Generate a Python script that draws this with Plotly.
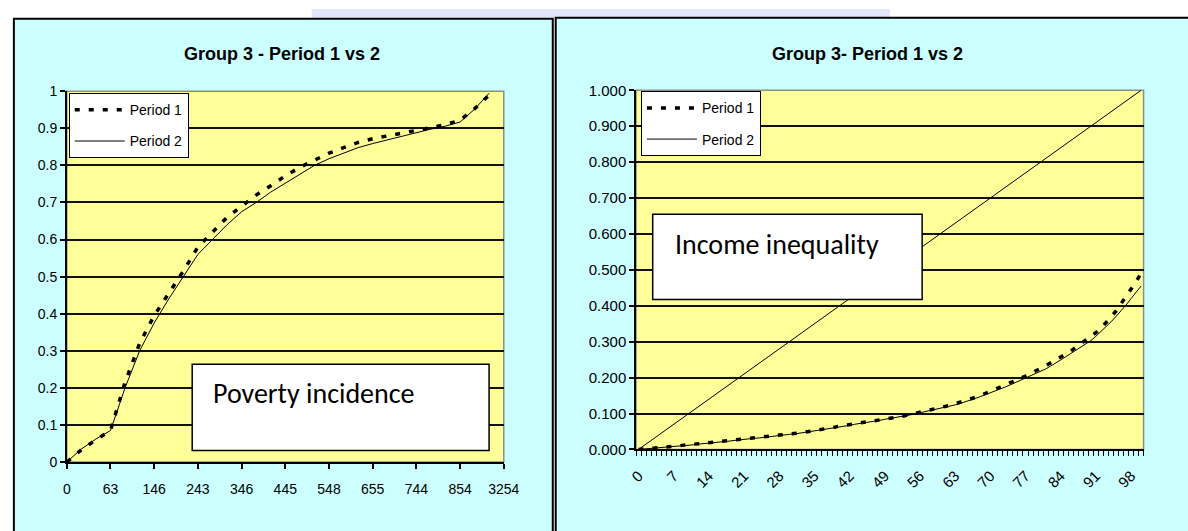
import plotly.graph_objects as go

W, H = 1188, 531


def px(x):
    return x / W


def py(y):
    return 1 - y / H


# ---------------- data: left chart (poverty incidence) ----------------
poverty_labels = ["0", "63", "146", "243", "346", "445", "548", "655", "744", "854", "3254"]
poverty_period1 = [0.000, 0.033, 0.060, 0.085, 0.215, 0.320, 0.395, 0.455, 0.515, 0.580,
                   0.620, 0.660, 0.690, 0.720, 0.745, 0.772, 0.795, 0.815, 0.833, 0.848,
                   0.862, 0.872, 0.879, 0.886, 0.895, 0.902, 0.910, 0.922, 0.953, 0.990]
poverty_period2 = [0.000, 0.035, 0.062, 0.085, 0.200, 0.300, 0.375, 0.440, 0.500, 0.560,
                   0.600, 0.640, 0.675, 0.700, 0.728, 0.752, 0.778, 0.800, 0.818, 0.834,
                   0.848, 0.859, 0.869, 0.879, 0.889, 0.898, 0.906, 0.917, 0.952, 0.995]
poverty_y_labels = ["0", "0.1", "0.2", "0.3", "0.4", "0.5", "0.6", "0.7", "0.8", "0.9", "1"]

# ---------------- data: right chart (income inequality) ----------------
ineq_labels = ["0", "7", "14", "21", "28", "35", "42", "49", "56", "63", "70", "77", "84", "91", "98"]
ineq_period1 = [0.000, 0.001, 0.003, 0.004, 0.005, 0.006, 0.008, 0.009, 0.010, 0.012,
                0.013, 0.015, 0.016, 0.017, 0.019, 0.020, 0.022, 0.023, 0.025, 0.026,
                0.028, 0.029, 0.031, 0.032, 0.034, 0.035, 0.037, 0.038, 0.040, 0.041,
                0.043, 0.045, 0.046, 0.048, 0.050, 0.052, 0.054, 0.057, 0.059, 0.062,
                0.065, 0.067, 0.069, 0.071, 0.074, 0.076, 0.078, 0.080, 0.082, 0.084,
                0.086, 0.089, 0.091, 0.094, 0.097, 0.100, 0.103, 0.106, 0.109, 0.112,
                0.115, 0.119, 0.123, 0.127, 0.131, 0.135, 0.140, 0.145, 0.150, 0.156,
                0.162, 0.167, 0.173, 0.178, 0.184, 0.190, 0.197, 0.204, 0.211, 0.218,
                0.225, 0.233, 0.241, 0.249, 0.257, 0.265, 0.274, 0.284, 0.294, 0.303,
                0.313, 0.325, 0.338, 0.352, 0.368, 0.385, 0.405, 0.425, 0.445, 0.467,
                0.490]
ineq_period2 = [0.000, 0.001, 0.002, 0.003, 0.004, 0.005, 0.007, 0.008, 0.009, 0.011,
                0.012, 0.013, 0.015, 0.016, 0.017, 0.019, 0.020, 0.022, 0.023, 0.025,
                0.026, 0.028, 0.029, 0.031, 0.032, 0.034, 0.035, 0.037, 0.038, 0.040,
                0.042, 0.043, 0.045, 0.047, 0.049, 0.051, 0.053, 0.055, 0.058, 0.060,
                0.063, 0.065, 0.067, 0.070, 0.072, 0.075, 0.077, 0.079, 0.081, 0.084,
                0.086, 0.088, 0.091, 0.093, 0.096, 0.099, 0.102, 0.105, 0.108, 0.110,
                0.113, 0.117, 0.120, 0.124, 0.128, 0.132, 0.137, 0.142, 0.147, 0.152,
                0.157, 0.162, 0.168, 0.174, 0.180, 0.186, 0.192, 0.198, 0.204, 0.210,
                0.216, 0.224, 0.232, 0.240, 0.249, 0.258, 0.267, 0.276, 0.285, 0.294,
                0.303, 0.315, 0.328, 0.341, 0.355, 0.370, 0.385, 0.402, 0.420, 0.437,
                0.455]
equality_line = [0.00, 0.01, 0.02, 0.03, 0.04, 0.05, 0.06, 0.07, 0.08, 0.09,
                 0.10, 0.11, 0.12, 0.13, 0.14, 0.15, 0.16, 0.17, 0.18, 0.19,
                 0.20, 0.21, 0.22, 0.23, 0.24, 0.25, 0.26, 0.27, 0.28, 0.29,
                 0.30, 0.31, 0.32, 0.33, 0.34, 0.35, 0.36, 0.37, 0.38, 0.39,
                 0.40, 0.41, 0.42, 0.43, 0.44, 0.45, 0.46, 0.47, 0.48, 0.49,
                 0.50, 0.51, 0.52, 0.53, 0.54, 0.55, 0.56, 0.57, 0.58, 0.59,
                 0.60, 0.61, 0.62, 0.63, 0.64, 0.65, 0.66, 0.67, 0.68, 0.69,
                 0.70, 0.71, 0.72, 0.73, 0.74, 0.75, 0.76, 0.77, 0.78, 0.79,
                 0.80, 0.81, 0.82, 0.83, 0.84, 0.85, 0.86, 0.87, 0.88, 0.89,
                 0.90, 0.91, 0.92, 0.93, 0.94, 0.95, 0.96, 0.97, 0.98, 0.99,
                 1.00]
ineq_y_labels = ["0.000", "0.100", "0.200", "0.300", "0.400", "0.500",
                 "0.600", "0.700", "0.800", "0.900", "1.000"]
y_values = [0.0, 0.1, 0.2, 0.3, 0.4, 0.5, 0.6, 0.7, 0.8, 0.9, 1.0]

pov_step = 3   # categories between labelled ticks (left chart)
ineq_step = 7  # categories between labels (right chart)

CYAN = "#CCFFFF"
YELLOW = "#FFFF99"
TICK_FONT = "Liberation Sans, Arial, sans-serif"
BOX_FONT = "Carlito, Lato, Open Sans, sans-serif"

fig = go.Figure()

pov_x = list(range(len(poverty_period1)))
ineq_x = list(range(len(ineq_period1)))

fig.add_trace(go.Scatter(x=pov_x, y=poverty_period1, mode="lines", name="Period 1",
                         line=dict(color="black", width=3.5, dash="5px,9px"),
                         xaxis="x", yaxis="y", legend="legend", legendgroup="a"))
fig.add_trace(go.Scatter(x=pov_x, y=poverty_period2, mode="lines", name="Period 2",
                         line=dict(color="black", width=1),
                         xaxis="x", yaxis="y", legend="legend", legendgroup="b"))

fig.add_trace(go.Scatter(x=ineq_x, y=equality_line, mode="lines", name="Equality",
                         line=dict(color="black", width=1), showlegend=False,
                         xaxis="x2", yaxis="y2"))
fig.add_trace(go.Scatter(x=ineq_x, y=ineq_period1, mode="lines", name="Period 1",
                         line=dict(color="black", width=3.5, dash="5px,9px"),
                         xaxis="x2", yaxis="y2", legend="legend2", legendgroup="c"))
fig.add_trace(go.Scatter(x=ineq_x, y=ineq_period2, mode="lines", name="Period 2",
                         line=dict(color="black", width=1),
                         xaxis="x2", yaxis="y2", legend="legend2", legendgroup="d"))

# plot area extents (pixels)
L1, R1, T1, B1 = 60, 506, 85, 468
L2, R2, T2, B2 = 641, 1159, 84, 455

common_y = dict(range=[0, 1], tickvals=y_values, showgrid=True, gridcolor="#111111",
                gridwidth=1.5, zeroline=False, showline=True, linecolor="black",
                linewidth=1.5, ticks="outside", ticklen=5, tickcolor="black",
                tickwidth=1.5, fixedrange=True)

fig.update_layout(
    width=W, height=H,
    margin=dict(l=0, r=0, t=0, b=0),
    paper_bgcolor="white",
    plot_bgcolor="rgba(0,0,0,0)",
    xaxis=dict(domain=[px(L1), px(R1)], anchor="y", range=[0, len(poverty_labels) * pov_step - pov_step],
               tickvals=[i * pov_step for i in range(len(poverty_labels))],
               ticktext=poverty_labels, showgrid=False, zeroline=False,
               showline=True, linecolor="black", linewidth=1.5,
               ticks="outside", ticklen=5, tickcolor="black", tickwidth=1.5,
               ticklabelstandoff=8,
               tickfont=dict(family=TICK_FONT, size=14, color="black")),
    yaxis=dict(domain=[py(B1), py(T1)], anchor="x", ticktext=poverty_y_labels,
               tickfont=dict(family=TICK_FONT, size=14, color="black"), **common_y),
    xaxis2=dict(domain=[px(L2), px(R2)], anchor="y2", range=[-0.5, len(ineq_period1) - 0.5],
                tickvals=[i * ineq_step for i in range(len(ineq_labels))],
                ticktext=ineq_labels, tickangle=-45, showgrid=False, zeroline=False,
                showline=True, linecolor="black", linewidth=1.5, ticks="",
                ticklabelstandoff=10,
                minor=dict(tickmode="linear", tick0=-0.5, dtick=1, ticks="outside",
                           ticklen=5, tickcolor="black", tickwidth=1, showgrid=False),
                tickfont=dict(family=TICK_FONT, size=15, color="black")),
    yaxis2=dict(domain=[py(B2), py(T2)], anchor="x2", ticktext=ineq_y_labels,
                tickfont=dict(family=TICK_FONT, size=15, color="black"), **common_y),
    legend=dict(x=px(62), y=py(87), xanchor="left", yanchor="top",
                bgcolor="white", bordercolor="black", borderwidth=1,
                font=dict(family=TICK_FONT, size=14, color="black"),
                itemwidth=50, tracegroupgap=10, traceorder="grouped"),
    legend2=dict(x=px(646), y=py(85), xanchor="left", yanchor="top",
                 bgcolor="white", bordercolor="black", borderwidth=1,
                 font=dict(family=TICK_FONT, size=14, color="black"),
                 itemwidth=50, tracegroupgap=10, traceorder="grouped"),
    showlegend=True,
)

shapes = [
    # faint slide decoration at the top
    dict(type="rect", xref="paper", yref="paper", x0=px(310), x1=px(900), y0=py(9), y1=1.0,
         fillcolor="#E2E6FA", line=dict(width=0), layer="below"),
    # chart panels
    dict(type="rect", xref="paper", yref="paper", x0=px(6), x1=px(556), y0=-0.02, y1=py(10),
         fillcolor=CYAN, line=dict(color="black", width=2), layer="below"),
    dict(type="rect", xref="paper", yref="paper", x0=px(559), x1=1.02, y0=-0.02, y1=py(9),
         fillcolor=CYAN, line=dict(color="black", width=2), layer="below"),
    # plot areas
    dict(type="rect", xref="paper", yref="paper", x0=px(L1), x1=px(R1), y0=py(B1), y1=py(T1),
         fillcolor=YELLOW, line=dict(color="#8c8c8c", width=1.5), layer="below"),
    dict(type="rect", xref="paper", yref="paper", x0=px(L2), x1=px(R2), y0=py(B2), y1=py(T2),
         fillcolor=YELLOW, line=dict(color="#8c8c8c", width=1.5), layer="below"),
    # text boxes
    dict(type="rect", xref="paper", yref="paper", x0=px(188), x1=px(491), y0=py(456), y1=py(367),
         fillcolor="white", line=dict(color="black", width=1.5), layer="above"),
    dict(type="rect", xref="paper", yref="paper", x0=px(658), x1=px(933), y0=py(300), y1=py(212),
         fillcolor="white", line=dict(color="black", width=1.5), layer="above"),
]
fig.update_layout(shapes=shapes)

annotations = [
    dict(text="<b>Group 3 - Period 1 vs 2</b>", x=px(280), y=py(47), xref="paper", yref="paper",
         showarrow=False, xanchor="center", yanchor="middle",
         font=dict(family=TICK_FONT, size=18, color="black")),
    dict(text="<b>Group 3- Period 1 vs 2</b>", x=px(877), y=py(46), xref="paper", yref="paper",
         showarrow=False, xanchor="center", yanchor="middle",
         font=dict(family=TICK_FONT, size=18, color="black")),
    dict(text="Poverty incidence", x=px(207), y=py(397), xref="paper", yref="paper",
         showarrow=False, xanchor="left", yanchor="middle",
         font=dict(family=BOX_FONT, size=28, color="black")),
    dict(text="Income inequality", x=px(679), y=py(243), xref="paper", yref="paper",
         showarrow=False, xanchor="left", yanchor="middle",
         font=dict(family=BOX_FONT, size=28, color="black")),
]
fig.update_layout(annotations=annotations)

page_fix = (
    "var s=document.createElement('style');"
    "s.textContent='html,body{margin:0!important;padding:0!important;overflow:hidden!important;}"
    ".plotly-graph-div{position:absolute!important;left:0!important;top:0!important;}';"
    "document.head.appendChild(s);"
)

fig.write_html(
    "out.html",
    config={"displayModeBar": False},
    post_script=page_fix,
)
